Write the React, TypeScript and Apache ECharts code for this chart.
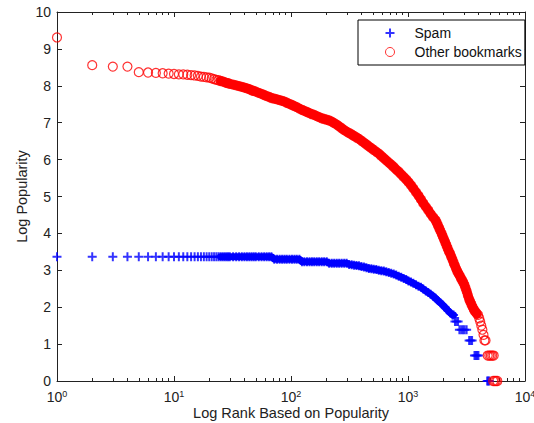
import React, { useEffect, useRef } from 'react';
import * as echarts from 'echarts';

// x axis ticks (log scale)
const xMajorTicks = [1, 10, 100, 1000, 10000];
const xMajorExponents = ['0', '1', '2', '3', '4'];
const xMinorTicks = [
  2, 3, 4, 5, 6, 7, 8, 9,
  20, 30, 40, 50, 60, 70, 80, 90,
  200, 300, 400, 500, 600, 700, 800, 900,
  2000, 3000, 4000, 5000, 6000, 7000, 8000, 9000,
];
const yTickLabels = ['0', '1', '2', '3', '4', '5', '6', '7', '8', '9', '10'];

// [rank, log popularity]
const spamPoints: [number, number][] = [
  [1, 3.37], [2, 3.37], [3, 3.37], [4, 3.37], [5, 3.37], [6, 3.37], [7, 3.37], [8, 3.37], [9, 3.37], [10, 3.37],
  [11, 3.37], [12, 3.37], [13, 3.37], [14, 3.37], [15, 3.37], [16, 3.37], [17, 3.37], [18, 3.37], [19, 3.37], [20, 3.37],
  [21, 3.37], [22, 3.37], [23, 3.37], [24, 3.37], [25, 3.37], [26, 3.37], [27, 3.37], [28, 3.37], [29, 3.37], [30, 3.37],
  [32, 3.37], [34, 3.37], [36, 3.37], [38, 3.37], [40, 3.37], [42, 3.37], [44, 3.37], [46, 3.37], [48, 3.37], [50, 3.37],
  [53, 3.37], [56, 3.37], [59, 3.37], [62, 3.37], [65, 3.37], [68, 3.37],
  [72, 3.3], [76, 3.3], [80, 3.3], [84, 3.3], [88, 3.3], [92, 3.3], [97, 3.3], [102, 3.3], [107, 3.3], [112, 3.3], [118, 3.3],
  [124, 3.23], [130, 3.23], [137, 3.23], [144, 3.23], [151, 3.23], [158, 3.23], [166, 3.23], [174, 3.23], [183, 3.23], [192, 3.23], [202, 3.23],
  [212, 3.19], [223, 3.19], [234, 3.19], [246, 3.19], [258, 3.19], [271, 3.19], [285, 3.19], [299, 3.19],
  [314, 3.16], [330, 3.15], [346, 3.14], [363, 3.13], [381, 3.12], [400, 3.1], [420, 3.09], [441, 3.07], [463, 3.05],
  [486, 3.04], [510, 3.03], [536, 3.02], [563, 3.0], [591, 2.99], [621, 2.98], [652, 2.96], [685, 2.94], [719, 2.92],
  [755, 2.9], [793, 2.87], [833, 2.84], [875, 2.81], [919, 2.78], [965, 2.75], [1010, 2.71], [1060, 2.68], [1110, 2.65],
  [1170, 2.61], [1230, 2.57], [1290, 2.54], [1350, 2.49], [1420, 2.44], [1490, 2.4], [1560, 2.35], [1640, 2.3],
  [1720, 2.24], [1800, 2.18], [1890, 2.12], [1980, 2.06], [2080, 1.99], [2180, 1.92], [2290, 1.85], [2400, 1.79],
  [2450, 1.79], [2520, 1.61], [2600, 1.61], [2680, 1.61], [2750, 1.39], [2850, 1.39], [2950, 1.39], [3050, 1.39],
  [3170, 1.39], [3330, 1.1], [3430, 1.1], [3530, 1.1], [3700, 0.69], [3800, 0.69], [3900, 0.69], [4000, 0.69],
  [4750, 0], [4850, 0], [4950, 0],
];

const otherPoints: [number, number][] = [
  [1, 9.31], [2, 8.56], [3, 8.52], [4, 8.52], [5, 8.37], [6, 8.36], [7, 8.35], [8, 8.34], [9, 8.33], [10, 8.32],
  [11, 8.31], [12, 8.31], [13, 8.3], [14, 8.29], [15, 8.28], [16, 8.27], [17, 8.25], [18, 8.24], [19, 8.23], [20, 8.22],
  [21, 8.2], [22, 8.18], [23, 8.16], [24, 8.15], [25, 8.13], [26, 8.12], [27, 8.1], [28, 8.08], [29, 8.07], [30, 8.05],
  [32, 8.03], [34, 8.01], [36, 7.99], [38, 7.97], [40, 7.95], [42, 7.93], [44, 7.91], [46, 7.88], [48, 7.86], [50, 7.84],
  [53, 7.81], [56, 7.78], [59, 7.75], [62, 7.72], [65, 7.7], [68, 7.67], [72, 7.65], [76, 7.63], [80, 7.61], [84, 7.59],
  [88, 7.57], [92, 7.54], [97, 7.51], [102, 7.48], [107, 7.45], [112, 7.42], [118, 7.38], [124, 7.35], [130, 7.32],
  [137, 7.29], [144, 7.26], [151, 7.23], [158, 7.21], [166, 7.18], [174, 7.15], [183, 7.12], [192, 7.1], [202, 7.08],
  [212, 7.06], [223, 7.03], [234, 6.99], [246, 6.95], [258, 6.9], [271, 6.85], [285, 6.8], [299, 6.76], [314, 6.72],
  [330, 6.68], [346, 6.64], [363, 6.6], [381, 6.56], [400, 6.51], [420, 6.46], [441, 6.41], [463, 6.36], [486, 6.31],
  [510, 6.26], [536, 6.21], [563, 6.16], [591, 6.1], [621, 6.04], [652, 5.98], [685, 5.92], [719, 5.86], [755, 5.8],
  [793, 5.73], [833, 5.67], [875, 5.6], [919, 5.53], [965, 5.46], [1010, 5.39], [1060, 5.31], [1110, 5.22], [1170, 5.12],
  [1230, 5.02], [1290, 4.92], [1350, 4.82], [1420, 4.72], [1490, 4.63], [1560, 4.53], [1640, 4.44], [1720, 4.36],
  [1760, 4.29], [1800, 4.22], [1850, 4.14], [1890, 4.07], [1940, 3.99], [1980, 3.92], [2030, 3.84], [2080, 3.76],
  [2130, 3.68], [2180, 3.6], [2230, 3.52], [2290, 3.45], [2340, 3.37], [2400, 3.29], [2460, 3.2], [2520, 3.12],
  [2580, 3.04], [2640, 2.97], [2700, 2.91], [2770, 2.85], [2830, 2.79], [2900, 2.73], [2970, 2.67], [3040, 2.6],
  [3110, 2.51], [3180, 2.42], [3250, 2.32], [3330, 2.22], [3400, 2.15], [3480, 2.08], [3560, 2.01], [3640, 1.95],
  [3720, 1.9], [3800, 1.86], [3880, 1.82], [3970, 1.79], [4060, 1.7], [4140, 1.61], [4230, 1.5], [4320, 1.39],
  [4420, 1.25], [4500, 1.1], [4600, 1.1], [4800, 0.69], [4950, 0.69], [5100, 0.69], [5250, 0.69], [5400, 0.69],
  [5350, 0], [5500, 0], [5650, 0], [5800, 0],
];

// rank ranges where the markers merge into one solid band
const spamBandRange = [25, 2450];
const otherBandRange = [25, 3880];

const seriesNames = ['Spam', 'Other bookmarks'];
const axisTitles = { x: 'Log Rank Based on Popularity', y: 'Log Popularity' };

const PLUS = 'path://M3.9,0h2.2v3.9h3.9v2.2h-3.9v3.9h-2.2v-3.9h-3.9v-2.2h3.9z';
const FONT = '"Liberation Sans", Arial, Helvetica, sans-serif';
const TEXT = '#222';
const LINE = '#222';
const BLUE = '#0000ff';
const RED = '#ff0000';

export default function App() {
  const ref = useRef<HTMLDivElement>(null);

  useEffect(() => {
    if (!ref.current) return;
    const chart = echarts.init(ref.current, undefined, { renderer: 'svg' });

    const baseX = {
      type: 'log' as const,
      logBase: 10,
      min: 1,
      max: 10000,
      gridIndex: 0,
      splitLine: { show: false },
    };
    const baseY = {
      type: 'value' as const,
      min: 0,
      max: 10,
      interval: 1,
      gridIndex: 0,
      splitLine: { show: false },
    };

    const inRange = (pts: [number, number][], r: number[]) => pts.filter((p) => p[0] >= r[0] && p[0] <= r[1]);

    chart.setOption({
      animation: false,
      backgroundColor: '#fff',
      textStyle: { fontFamily: FONT },
      grid: { left: 57, right: 9, top: 12, bottom: 42, containLabel: false, outerBoundsMode: 'none' },
      legend: {
        orient: 'vertical',
        left: 358,
        top: 20,
        padding: [6, 3, 6, 27],
        itemGap: 5,
        itemWidth: 9,
        itemHeight: 9,
        backgroundColor: '#fff',
        borderColor: '#000',
        borderWidth: 1,
        borderRadius: 0,
        textStyle: { fontSize: 14, color: '#111', fontFamily: FONT, padding: [0, 0, 0, 15] },
        data: [
          { name: seriesNames[0], icon: PLUS, itemStyle: { color: BLUE } },
          {
            name: seriesNames[1],
            icon: 'circle',
            itemStyle: { color: 'rgba(255,0,0,0)', borderColor: RED, borderWidth: 1 },
          },
        ],
      },
      xAxis: [
        {
          ...baseX,
          position: 'bottom',
          axisLine: { show: true, lineStyle: { color: LINE, width: 1 } },
          axisTick: { show: true, inside: true, length: 5, customValues: xMajorTicks, lineStyle: { color: LINE } },
          axisLabel: {
            show: true,
            customValues: xMajorTicks,
            margin: 8,
            formatter: (v: number) => {
              const i = xMajorTicks.findIndex((t) => Math.abs(t - v) < 1e-6 * t);
              return `{b|10}{s|${xMajorExponents[i] ?? ''}}`;
            },
            rich: {
              b: { fontSize: 14, color: TEXT, fontFamily: FONT, lineHeight: 16 },
              s: { fontSize: 9, color: TEXT, fontFamily: FONT, verticalAlign: 'top', lineHeight: 10 },
            },
          },
          name: axisTitles.x,
          nameLocation: 'middle',
          nameGap: 24,
          nameMoveOverlap: false,
          nameTextStyle: { fontSize: 14.5, color: TEXT, fontFamily: FONT },
        },
        {
          ...baseX,
          position: 'bottom',
          axisLine: { show: false },
          axisTick: { show: true, inside: true, length: 3, customValues: xMinorTicks, lineStyle: { color: LINE } },
          axisLabel: { show: false },
        },
        {
          ...baseX,
          position: 'top',
          axisLine: { show: true, lineStyle: { color: LINE, width: 1 } },
          axisTick: { show: true, inside: true, length: 5, customValues: xMajorTicks, lineStyle: { color: LINE } },
          axisLabel: { show: false },
        },
        {
          ...baseX,
          position: 'top',
          axisLine: { show: false },
          axisTick: { show: true, inside: true, length: 3, customValues: xMinorTicks, lineStyle: { color: LINE } },
          axisLabel: { show: false },
        },
      ],
      yAxis: [
        {
          ...baseY,
          position: 'left',
          axisLine: { show: true, lineStyle: { color: LINE, width: 1 } },
          axisTick: { show: true, inside: true, length: 5, lineStyle: { color: LINE } },
          axisLabel: {
            show: true,
            margin: 6,
            fontSize: 14,
            color: TEXT,
            fontFamily: FONT,
            formatter: (v: number) => yTickLabels[Math.round(v)] ?? '',
          },
          name: axisTitles.y,
          nameLocation: 'middle',
          nameGap: 28,
          nameMoveOverlap: false,
          nameTextStyle: { fontSize: 14.5, color: TEXT, fontFamily: FONT },
        },
        {
          ...baseY,
          position: 'right',
          axisLine: { show: true, lineStyle: { color: LINE, width: 1 } },
          axisTick: { show: true, inside: true, length: 5, lineStyle: { color: LINE } },
          axisLabel: { show: false },
        },
      ],
      series: [
        {
          type: 'line',
          name: 'spam-band',
          xAxisIndex: 0,
          yAxisIndex: 0,
          data: inRange(spamPoints, spamBandRange),
          showSymbol: false,
          lineStyle: { color: BLUE, width: 7, cap: 'round', join: 'round' },
          silent: true,
          z: 2,
        },
        {
          type: 'scatter',
          name: seriesNames[0],
          xAxisIndex: 0,
          yAxisIndex: 0,
          data: spamPoints,
          symbol: PLUS,
          symbolSize: 9,
          itemStyle: { color: BLUE },
          clip: false,
          silent: true,
          z: 3,
        },
        {
          type: 'line',
          name: 'other-band',
          xAxisIndex: 0,
          yAxisIndex: 0,
          data: inRange(otherPoints, otherBandRange),
          showSymbol: false,
          lineStyle: { color: RED, width: 9, cap: 'round', join: 'round' },
          silent: true,
          z: 4,
        },
        {
          type: 'scatter',
          name: seriesNames[1],
          xAxisIndex: 0,
          yAxisIndex: 0,
          data: otherPoints,
          symbol: 'circle',
          symbolSize: 9,
          itemStyle: { color: 'rgba(255,0,0,0)', borderColor: RED, borderWidth: 1.2 },
          clip: false,
          silent: true,
          z: 5,
        },
      ],
    });

    return () => chart.dispose();
  }, []);

  return (
    <div
      ref={ref}
      style={{ position: 'absolute', left: 0, top: 0, width: 534, height: 423, background: '#fff' }}
    />
  );
}
